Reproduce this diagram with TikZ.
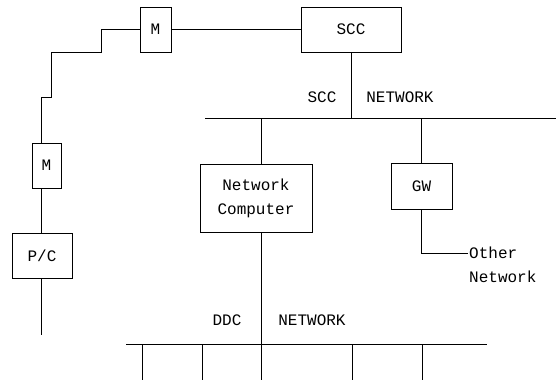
\documentclass[tikz,border=0pt]{standalone}
\usepackage{fontspec}
\setmainfont{Liberation Mono}
\usetikzlibrary{positioning}

\begin{document}
\begin{tikzpicture}[x=1pt,y=-1pt,
  box/.style={draw,line width=0.8pt,inner sep=0pt,align=center},
  wire/.style={-,black,line width=0.8pt},
  every node/.append style={font=\fontsize{16}{24}\selectfont}]
\useasboundingbox (0,0) rectangle (558,381);

\node[box,minimum width=31,minimum height=45] (M1) at (155.5,29.5) {M};
\node[box,minimum width=100,minimum height=45] (S1) at (351,29.5) {SCC};
\node[box,minimum width=29,minimum height=45] (M2) at (46.5,165.5) {M};
\node[box,minimum width=60,minimum height=45] (P1) at (42,255.5) {P/C};
\node[box,minimum width=112,minimum height=68] (N1) at (256,198) {Network\\Computer};
\node[box,minimum width=61,minimum height=46] (G1) at (421.5,186) {GW};

\coordinate (C1) at (101,52);
\coordinate (C2) at (51,97);
\coordinate (C3) at (41,143);
\coordinate (C4) at (41,335);
\coordinate (B1) at (205,118);
\coordinate (B2) at (556,118);
\coordinate (D1) at (126,344);
\coordinate (D2) at (487,344);
\coordinate (N2) at (261,380);
\coordinate (G2) at (468,253);

\path[wire] (M1) edge [] node[]{} (S1);
\draw[wire] (M1.west) -| (C1) -| (C2) -| (C3);
\draw[wire] (M2.south -| C3) -- (P1.north -| C3);
\draw[wire] (P1.south -| C3) -- (C4);

\draw[wire] (B1) -- (B2);
\draw[wire] (S1.south) -- (S1.south |- B1);
\draw[wire] (N2 |- B1) -- (N2 |- N1.north);
\draw[wire] (N2 |- N1.south) -- (N2);
\draw[wire] (G1.north) -- (G1.north |- B1);
\draw[wire] (G1.south) |- (G2);

\draw[wire] (D1) -- (D2);
\foreach \x in {142,202,352,422}
  \draw[wire] (\x,344) -- (\x,380);

\node at (322,97) {SCC};
\node at (400,97) {NETWORK};
\node at (227,320) {DDC};
\node at (312,320) {NETWORK};
\node[anchor=west,align=left,inner sep=1pt] (O1) at (G2 |- 0,265) {Other\\Network};

\end{tikzpicture}
\end{document}
